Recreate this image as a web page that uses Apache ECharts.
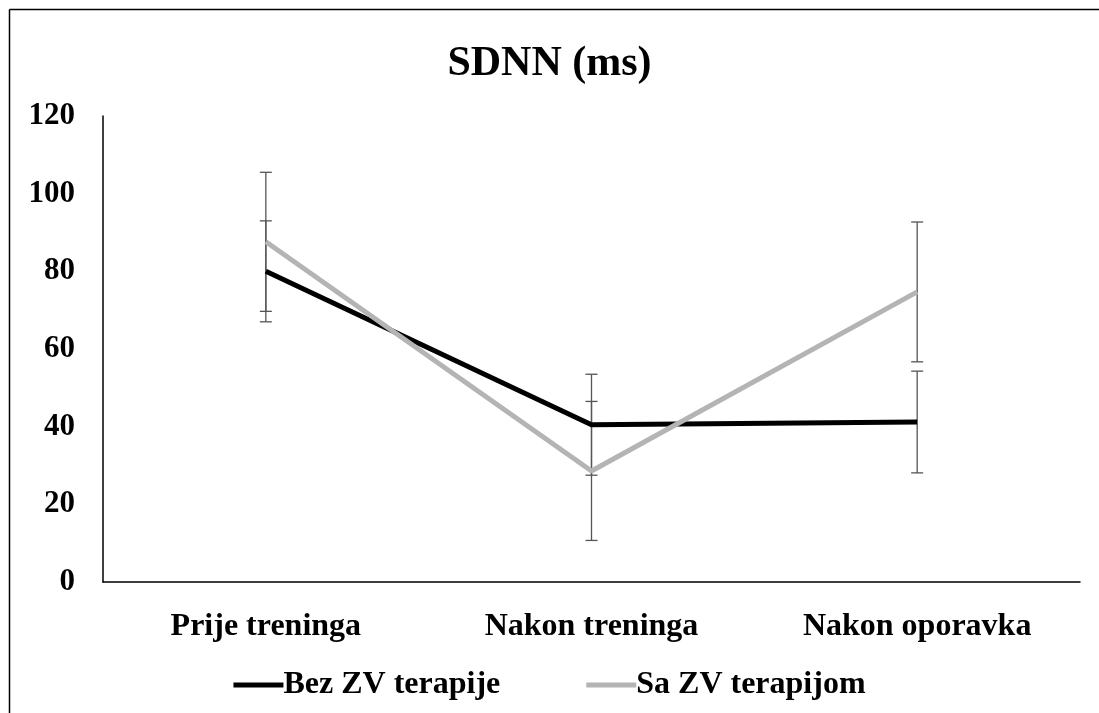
<!DOCTYPE html>
<html>
<head>
<meta charset="utf-8">
<script src="https://cdn.jsdelivr.net/npm/echarts@6/dist/echarts.min.js"></script>
<style>
  html, body { margin: 0; padding: 0; background: #fff; }
  #chart { width: 1099px; height: 713px; }
</style>
</head>
<body>
<div id="chart"></div>
<script>
// categories and values
const categories = ['Prije treninga', 'Nakon treninga', 'Nakon oporavka']
const bezZv = [80.0, 40.5, 41.2]
const bezZvSd = [13.0, 13.0, 13.1]
const saZv = [87.6, 28.6, 74.7]
const saZvSd = [17.9, 17.9, 18.0]
const yTicks = [0, 20, 40, 60, 80, 100, 120]

const font = 'Liberation Serif'

function errorData(values, sd) {
  return values.map((v, i) => [i, v - sd[i], v + sd[i]])
}

function renderErrorBar(params, api) {
  const x = api.value(0)
  const low = api.coord([x, api.value(1)])
  const high = api.coord([x, api.value(2)])
  const cap = 6
  const style = { stroke: '#555', lineWidth: 1.3 }
  return {
    type: 'group',
    children: [
      { type: 'line', shape: { x1: high[0], y1: high[1], x2: low[0], y2: low[1] }, style },
      { type: 'line', shape: { x1: high[0] - cap, y1: high[1], x2: high[0] + cap, y2: high[1] }, style },
      { type: 'line', shape: { x1: low[0] - cap, y1: low[1], x2: low[0] + cap, y2: low[1] }, style },
    ],
  }
}

const myChart = echarts.init(document.getElementById('chart'))
const option = {
  backgroundColor: '#fff',
  animation: false,
  title: {
    text: 'SDNN (ms)',
    left: 'center',
    top: 38,
    textStyle: { fontFamily: font, fontSize: 42, fontWeight: 'bold', color: '#000' },
  },
  legend: {
    bottom: 7,
    left: 'center',
    data: ['Bez ZV terapije', 'Sa ZV terapijom'],
    icon: 'rect',
    itemWidth: 50,
    itemHeight: 5,
    itemGap: 86,
    textStyle: { fontFamily: font, fontSize: 32, fontWeight: 'bold', color: '#000', padding: [0, 0, 0, -5] },
  },
  grid: {
    left: 103,
    right: 19,
    top: 116,
    bottom: 131,
  },
  xAxis: {
    type: 'category',
    data: categories,
    boundaryGap: true,
    axisLine: { lineStyle: { color: '#000', width: 1.5 } },
    axisTick: { show: false },
    axisLabel: {
      margin: 29,
      fontFamily: font, fontSize: 32, fontWeight: 'bold', color: '#000',
    },
  },
  yAxis: {
    type: 'value',
    min: yTicks[0],
    max: yTicks[yTicks.length - 1],
    interval: 20,
    splitLine: { show: false },
    axisLine: { show: true, lineStyle: { color: '#000', width: 1.5 } },
    axisTick: { show: false },
    axisLabel: {
      margin: 28,
      fontFamily: font, fontSize: 31, fontWeight: 'bold', color: '#000',
    },
  },
  graphic: [
    { type: 'line', shape: { x1: 9.5, y1: 9.5, x2: 1099, y2: 9.5 }, style: { stroke: '#000', lineWidth: 1.5 } },
    { type: 'line', shape: { x1: 9.5, y1: 9.5, x2: 9.5, y2: 713 }, style: { stroke: '#000', lineWidth: 1.5 } },
  ],
  series: [
    {
      type: 'custom',
      name: 'err-bez',
      renderItem: renderErrorBar,
      data: errorData(bezZv, bezZvSd),
      z: 1,
      silent: true,
    },
    {
      type: 'custom',
      name: 'err-sa',
      renderItem: renderErrorBar,
      data: errorData(saZv, saZvSd),
      z: 1,
      silent: true,
    },
    {
      name: 'Bez ZV terapije',
      type: 'line',
      data: bezZv,
      showSymbol: false,
      symbol: 'none',
      color: '#000',
      lineStyle: { color: '#000', width: 5 },
      z: 3,
    },
    {
      name: 'Sa ZV terapijom',
      type: 'line',
      data: saZv,
      showSymbol: false,
      symbol: 'none',
      color: '#b4b4b4',
      lineStyle: { color: '#b4b4b4', width: 5 },
      z: 4,
    },
  ],
}
myChart.setOption(option)
</script>
</body>
</html>
